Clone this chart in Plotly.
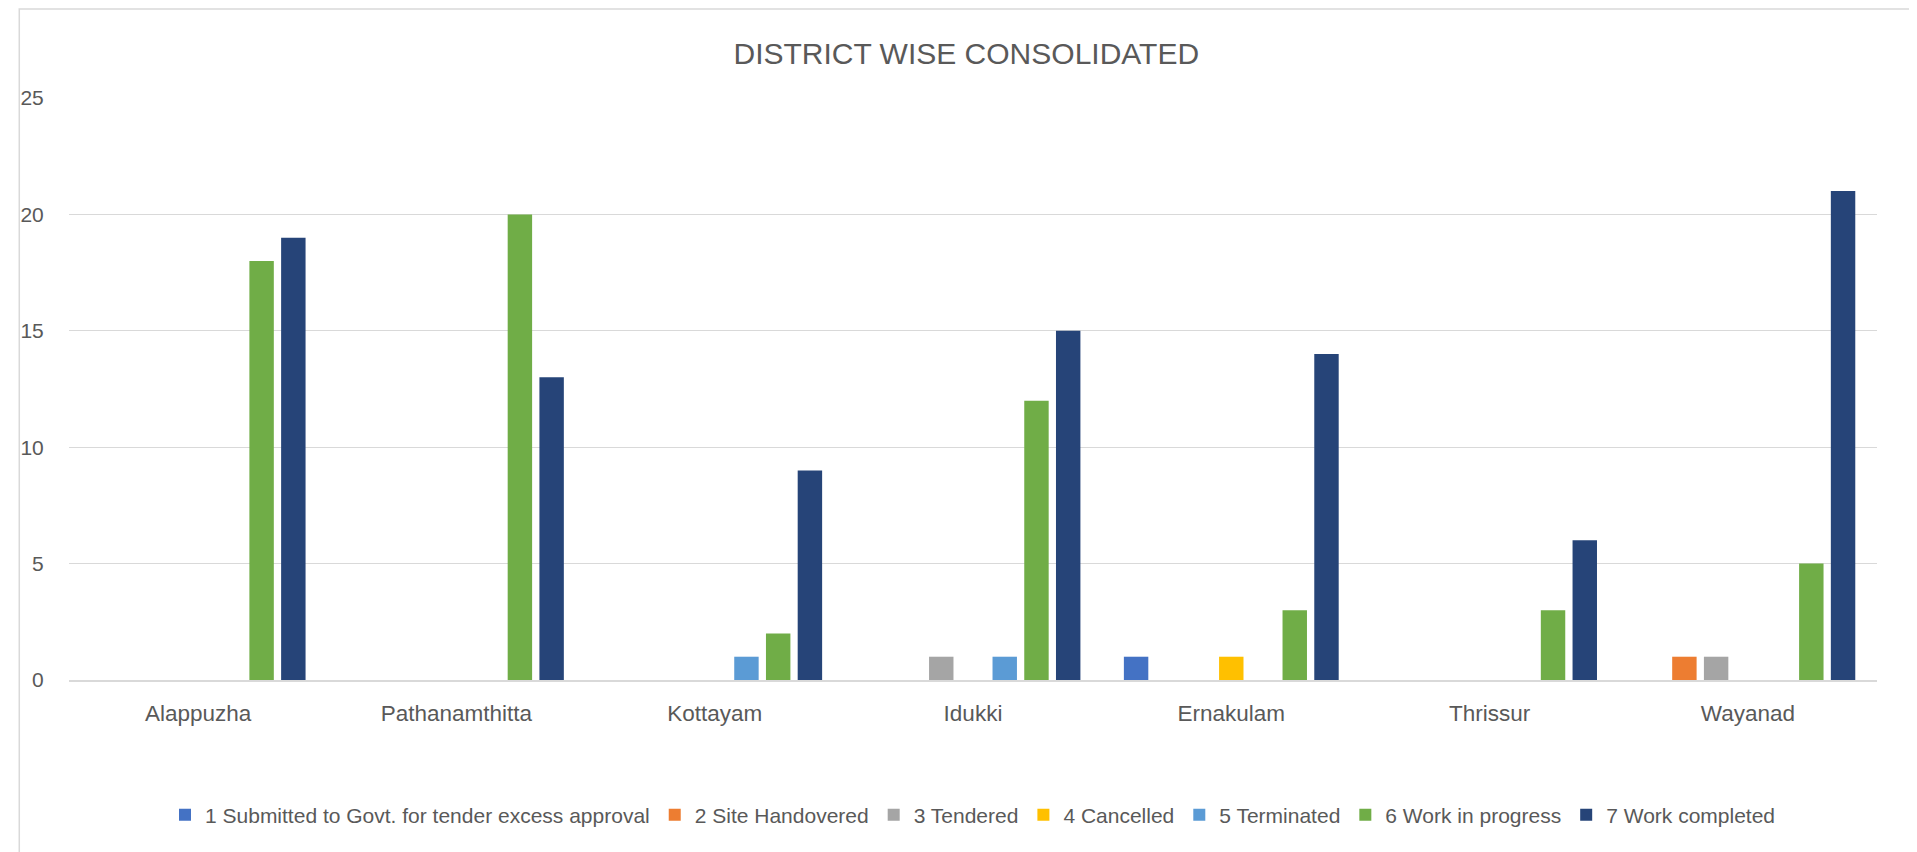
import plotly.graph_objects as go

districts = ["Alappuzha", "Pathanamthitta", "Kottayam", "Idukki", "Ernakulam", "Thrissur", "Wayanad"]
series_names = [
    "1 Submitted to Govt. for tender excess approval",
    "2 Site Handovered",
    "3 Tendered",
    "4 Cancelled",
    "5 Terminated",
    "6 Work in progress",
    "7 Work completed",
]
s1 = [0, 0, 0, 0, 1, 0, 0]
s2 = [0, 0, 0, 0, 0, 0, 1]
s3 = [0, 0, 0, 1, 0, 0, 1]
s4 = [0, 0, 0, 0, 1, 0, 0]
s5 = [0, 0, 1, 1, 0, 0, 0]
s6 = [18, 20, 2, 12, 3, 3, 5]
s7 = [19, 13, 9, 15, 14, 6, 21]
colors = ["#4472C4", "#ED7D31", "#A5A5A5", "#FFC000", "#5B9BD5", "#70AD47", "#264478"]

# page body has an 8px margin; figure coordinates are offset by it
OFF = 8
W, H = 1917 - OFF, 852 - OFF
ml, mt = 59 - OFF, 98 - OFF
mr = W - (1877 - OFF)
mb = H - (680 - OFF)

fig = go.Figure()
for name, vals, c in zip(series_names, [s1, s2, s3, s4, s5, s6, s7], colors):
    fig.add_trace(go.Bar(x=districts, y=[v if v else None for v in vals], name=name, marker_color=c,
                         marker_line_width=0))

pw = W - ml - mr
ph = H - mt - mb
fig.add_shape(type="rect", xref="paper", yref="paper",
              x0=(1 - ml) / pw, x1=(W + 5 - ml) / pw,
              y0=-(H + 5 - mt - ph) / ph, y1=1 + (mt - 1) / ph,
              line=dict(color="#D9D9D9", width=1.5), layer="below")

font = "Liberation Sans, Open Sans, sans-serif"
fig.update_layout(
    width=W, height=H,
    margin=dict(l=ml, r=mr, t=mt, b=mb, pad=0),
    paper_bgcolor="white", plot_bgcolor="white",
    title=dict(text="DISTRICT WISE CONSOLIDATED", x=0.502, xanchor="center",
               y=1 - (53 - OFF) / H, yanchor="middle",
               font=dict(family=font, size=30, color="#595959")),
    barmode="group", bargap=0.14, bargroupgap=0.23,
    showlegend=True,
    legend=dict(orientation="h", x=0.5, xanchor="center", y=-(815 - OFF - mt - ph) / ph, yanchor="middle",
                font=dict(family=font, size=21, color="#595959"), itemwidth=30,
                traceorder="normal"),
    xaxis=dict(showgrid=False, showline=True, linecolor="#D9D9D9", linewidth=1.5,
               tickfont=dict(family=font, size=22.5, color="#595959"), ticks="outside", ticklen=12,
               tickcolor="rgba(0,0,0,0)"),
    yaxis=dict(range=[0, 25], dtick=5, showgrid=True, gridcolor="#D9D9D9", gridwidth=1,
               zeroline=False, showline=False,
               tickfont=dict(family=font, size=21, color="#595959"), ticks="outside",
               ticklen=20, tickcolor="rgba(0,0,0,0)"),
)
fig.write_html("out.html")
